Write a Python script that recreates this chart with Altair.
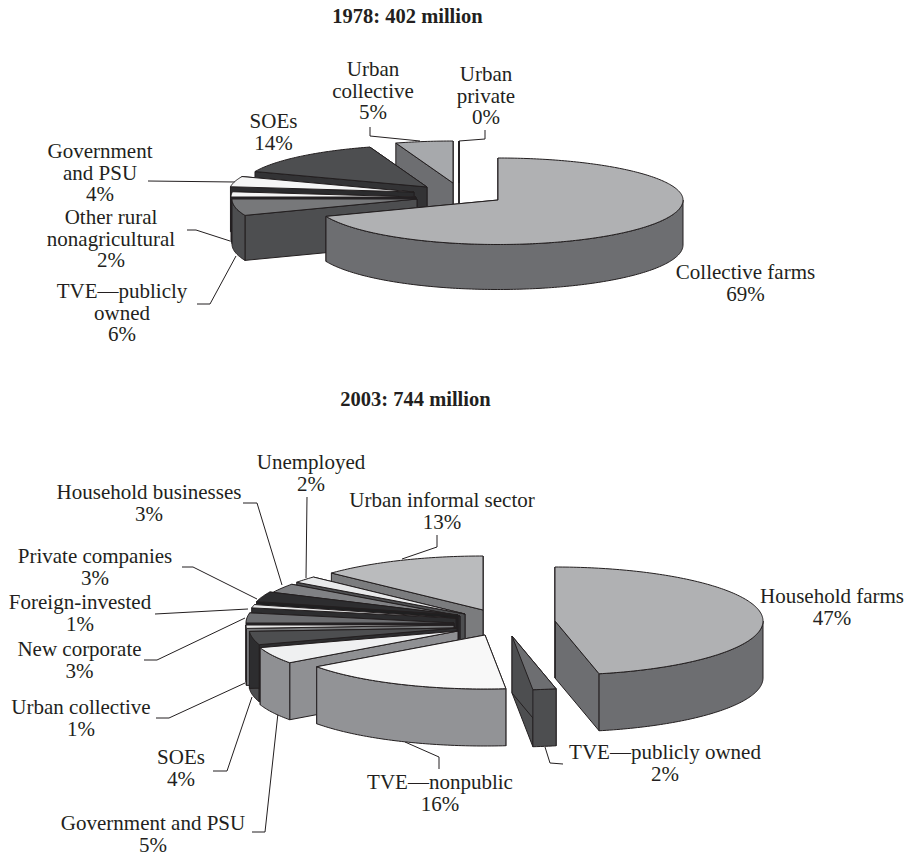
import math
import altair as alt

INK = "#231f20"

# ---- data -----------------------------------------------------------------
names_1978 = ["Collective farms", "TVE—publicly\nowned", "Other rural\nnonagricultural",
              "Government\nand PSU", "SOEs", "Urban\ncollective", "Urban\nprivate"]
shares_1978 = [69, 6, 2, 4, 14, 5, 0]
pct_1978 = ["69%", "6%", "2%", "4%", "14%", "5%", "0%"]

names_2003 = ["Household farms", "TVE—publicly owned", "TVE—nonpublic", "Government and PSU",
              "SOEs", "Urban collective", "New corporate", "Foreign-invested",
              "Private companies", "Household businesses", "Unemployed", "Urban informal sector"]
shares_2003 = [46.6, 1.8, 16.6, 5, 4, 1, 3, 1, 3, 3, 2, 13]
pct_2003 = ["47%", "2%", "16%", "5%", "4%", "1%", "3%", "1%", "3%", "3%", "2%", "13%"]

titles = ["1978: 402 million", "2003: 744 million"]

# ---- layout and style ------------------------------------------------------
layout = {
    "1978": dict(
        rx=185, ry=42, ryb=44.5, depth=45,
        apex_x=[498, 417, 416, 414, 427, 453, 459],
        apex_y=[200, 199, 197, 192, 187, 183, 183],
        top=["#b0b1b3", "#77787a", "#f5f5f5", "#f5f5f5", "#4d4e50", "#a7a9ac", "#ffffff"],
        wall=["#6d6e71", "#4d4e50", "#2b2b2d", "#2b2b2d", "#333335", "#6d6e71", "#ffffff"],
        label_x=[745.5, 122, 111, 100, 273.5, 373, 486],
        label_y=[273, 292, 218, 152, 122, 70, 75],
        step=21.5,
    ),
    "2003": dict(
        rx=208, ry=54, ryb=54, depth=57,
        apex_x=[555, 512, 485, 458, 457, 454, 454, 456, 458, 460, 465, 483],
        apex_y=[621, 636, 635, 631, 628, 625, 623, 618, 615, 616, 614, 610],
        top=["#b0b1b3", "#6d6e71", "#f8f8f8", "#eff0f1", "#4d4e50", "#e8e8e8", "#6d6e71",
             "#e8e8e8", "#2d2d2f", "#808184", "#e8e9ea", "#babbbd"],
        wall=["#6d6e71", "#4d4e50", "#929396", "#8f9093", "#2d2d2f", "#77787a", "#2d2d2f",
              "#2d2d2f", "#1f1f20", "#2d2d2f", "#4d4e50", "#7b7c7e"],
        rim={"SOEs": "#4d4e50"},
        rim_behind="SOEs",
        label_x=[832, 665, 440, 153, 181, 81, 79.5, 80, 95, 149, 311, 442],
        label_y=[597, 753, 783, 824, 758, 708, 650, 603, 557, 493, 463, 501],
        step=21.5,
    ),
}

leaders = [
    [(459, 141), (485, 139), (485, 130)],
    [(370, 127), (370, 136), (420, 141)],
    [(148, 181), (235, 182)],
    [(187, 230), (196, 230), (230, 241)],
    [(197, 304), (210, 304), (236, 256)],
    [(307, 497), (306, 578)],
    [(437, 535), (437, 547), (402, 559)],
    [(243, 503), (257, 503), (282, 585)],
    [(182, 567), (193, 567), (257, 599)],
    [(155, 614), (248, 609)],
    [(144, 660), (157, 660), (245, 618)],
    [(156, 718), (169, 718), (245, 683)],
    [(213, 771), (227, 771), (252, 697)],
    [(252, 832), (265, 832), (278, 713)],
    [(405, 742), (439, 757), (439, 769)],
    [(545, 747), (550, 763), (563, 764)],
]


def rim_point(cfg, ax, ay, theta):
    t = math.radians(theta)
    c = math.cos(t)
    return (ax + cfg["rx"] * math.sin(t), ay - c * (cfg["ry"] if c > 0 else cfg["ryb"]))


def arc(cfg, ax, ay, a0, a1):
    n = max(2, int(abs(a1 - a0)) + 1)
    return [rim_point(cfg, ax, ay, a0 + (a1 - a0) * i / (n - 1)) for i in range(n)]


def poly(points, fill):
    pts = [list(p) for p in points]
    pts.append(pts[0])
    return {"type": "Feature", "properties": {"fill": fill},
            "geometry": {"type": "Polygon", "coordinates": [pts]}}


def down(points, d):
    return [(x, y + d) for x, y in points]


def slice_parts(cfg, shares, names):
    """Painter's-order polygons of one exploded pie, back slices first."""
    d = cfg["depth"]
    feats = []
    cum = [0]
    for s in shares:
        cum.append(cum[-1] + s)

    def rim_wall(i):
        a0, a1 = cum[i] * 3.6, cum[i + 1] * 3.6
        lo, hi = max(a0, 90), min(a1, 270)
        if hi <= lo:
            return []
        r = arc(cfg, cfg["apex_x"][i], cfg["apex_y"][i], lo, hi)
        col = cfg.get("rim", {}).get(names[i], cfg["wall"][i])
        return [poly(r + down(r, d)[::-1], col)]

    behind = cfg.get("rim_behind")
    for i in range(len(shares) - 1, -1, -1):
        ax, ay = cfg["apex_x"][i], cfg["apex_y"][i]
        a0, a1 = cum[i] * 3.6, cum[i + 1] * 3.6
        if i > 0 and names[i - 1] == behind:
            feats += rim_wall(i - 1)
        for ang in (a1, a0):
            p = rim_point(cfg, ax, ay, ang)
            q = [(ax, ay), p]
            feats.append(poly(q + down(q, d)[::-1], cfg["wall"][i]))
        if names[i] != behind:
            feats += rim_wall(i)
        feats.append(poly([(ax, ay)] + arc(cfg, ax, ay, a0, a1), cfg["top"][i]))
    return feats


features = slice_parts(layout["1978"], shares_1978, names_1978) + \
    slice_parts(layout["2003"], shares_2003, names_2003)

line_features = [{"type": "Feature", "properties": {},
                  "geometry": {"type": "LineString", "coordinates": [list(p) for p in l]}}
                 for l in leaders]

rows = []
for key, names, pcts in (("1978", names_1978, pct_1978), ("2003", names_2003, pct_2003)):
    cfg = layout[key]
    for n, s, x, y in zip(names, pcts, cfg["label_x"], cfg["label_y"]):
        for j, line in enumerate(n.split("\n") + [s]):
            rows.append({"lon": x, "lat": y + j * cfg["step"], "t": line})

title_rows = [{"lon": 407.5, "lat": 17, "t": titles[0]}, {"lon": 415.5, "lat": 400, "t": titles[1]}]

proj = dict(type="identity", scale=1, translate=[-8, -8])

pies = alt.Chart(alt.InlineData(values=features, format=alt.DataFormat(type="json"))).mark_geoshape(
    stroke=INK, strokeWidth=1, strokeJoin="round"
).encode(fill=alt.Fill("properties.fill:N", scale=None)).project(**proj)

lines = alt.Chart(alt.InlineData(values=line_features, format=alt.DataFormat(type="json"))).mark_geoshape(
    filled=False, stroke=INK, strokeWidth=1
).project(**proj)

labels = alt.Chart(alt.Data(values=rows)).mark_text(
    font="Liberation Serif", fontSize=21, color=INK, align="center", baseline="middle"
).encode(longitude="lon:Q", latitude="lat:Q", text="t:N").project(**proj)

heads = alt.Chart(alt.Data(values=title_rows)).mark_text(
    font="Liberation Serif", fontSize=20.5, fontWeight="bold", color=INK, align="center", baseline="middle"
).encode(longitude="lon:Q", latitude="lat:Q", text="t:N").project(**proj)

chart = alt.layer(lines, pies, labels, heads).properties(
    width=898, height=846, padding=0, autosize=alt.AutoSizeParams(type="none")
).configure_view(stroke=None)

chart.save("out.html", embed_options={"renderer": "svg", "actions": False})
